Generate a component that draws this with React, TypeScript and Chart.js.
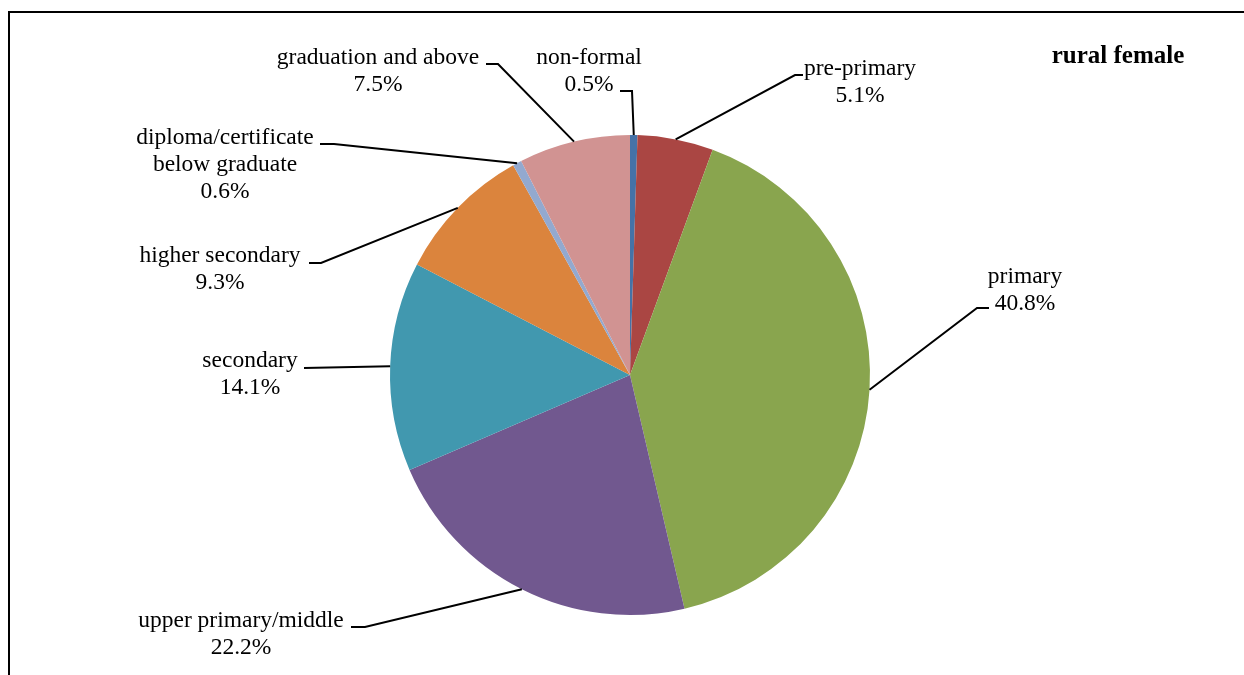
import React, { useEffect, useRef } from "react";
import { Chart, registerables } from "chart.js";

Chart.register(...registerables);

const categories = [
  "non-formal",
  "pre-primary",
  "primary",
  "upper primary/middle",
  "secondary",
  "higher secondary",
  "diploma/certificate below graduate",
  "graduation and above",
];
const labelLines = [
  ["non-formal"],
  ["pre-primary"],
  ["primary"],
  ["upper primary/middle"],
  ["secondary"],
  ["higher secondary"],
  ["diploma/certificate", "below graduate"],
  ["graduation and above"],
];
const values = [0.5, 5.1, 40.8, 22.2, 14.1, 9.3, 0.6, 7.5];
const colors = ["#4572A7", "#AA4643", "#89A54E", "#71588F", "#4198AF", "#DB843D", "#93A9CF", "#D19392"];
const title = "rural female";

// label layout: text center x, first-line middle y, leader start (at text), elbow
const labelLayout = [
  { x: 589, y: 58, start: [620, 91], elbow: [632, 91] },
  { x: 860, y: 69, start: [803, 75], elbow: [795, 75] },
  { x: 1025, y: 277, start: [989, 308], elbow: [977, 308] },
  { x: 241, y: 621, start: [351, 627], elbow: [365, 627] },
  { x: 250, y: 361, start: [304, 368], elbow: [304, 368] },
  { x: 220, y: 256, start: [309, 263], elbow: [321, 263] },
  { x: 225, y: 138, start: [320, 144], elbow: [334, 144] },
  { x: 378, y: 58, start: [486, 64], elbow: [498, 64] },
];

const FONT = '"Liberation Serif", "Times New Roman", serif';

const labelPlugin = {
  id: "leaderLabels",
  beforeDraw(chart: any) {
    const ctx = chart.ctx;
    ctx.save();
    ctx.strokeStyle = "#000";
    ctx.lineWidth = 2;
    ctx.beginPath();
    ctx.moveTo(8, 12);
    ctx.lineTo(chart.width, 12);
    ctx.moveTo(9, 12);
    ctx.lineTo(9, chart.height);
    ctx.stroke();
    ctx.restore();
  },
  afterDraw(chart: any) {
    const ctx = chart.ctx;
    const meta = chart.getDatasetMeta(0);
    ctx.save();
    meta.data.forEach((arc: any, i: number) => {
      const p = arc.getProps(["x", "y", "startAngle", "endAngle", "outerRadius"], true);
      const mid = (p.startAngle + p.endAngle) / 2;
      const ax = p.x + Math.cos(mid) * p.outerRadius;
      const ay = p.y + Math.sin(mid) * p.outerRadius;
      const L = labelLayout[i];
      ctx.strokeStyle = "#000";
      ctx.lineWidth = 2;
      ctx.beginPath();
      ctx.moveTo(L.start[0], L.start[1]);
      ctx.lineTo(L.elbow[0], L.elbow[1]);
      ctx.lineTo(ax, ay);
      ctx.stroke();
      ctx.fillStyle = "#000";
      ctx.font = `23.5px ${FONT}`;
      ctx.textAlign = "center";
      ctx.textBaseline = "middle";
      const lines = [...labelLines[i], values[i].toFixed(1) + "%"];
      lines.forEach((t, k) => ctx.fillText(t, L.x, L.y + k * 27));
    });
    ctx.font = `bold 25px ${FONT}`;
    ctx.textAlign = "center";
    ctx.textBaseline = "middle";
    ctx.fillText(title, 1118, 57);
    ctx.restore();
  },
};

export default function App() {
  const ref = useRef<HTMLCanvasElement>(null);
  useEffect(() => {
    if (!ref.current) return;
    const chart = new Chart(ref.current, {
      type: "pie",
      data: {
        labels: categories,
        datasets: [
          {
            data: values,
            backgroundColor: colors,
            borderWidth: 0,
          },
        ],
      },
      options: {
        animation: false,
        responsive: false,
        layout: { padding: { top: 135, bottom: 60, left: 390, right: 374 } },
        plugins: {
          legend: { display: false },
          tooltip: { enabled: false },
          title: { display: false },
        },
      },
      plugins: [labelPlugin],
    });
    return () => chart.destroy();
  }, []);
  return (
    <div style={{ position: "absolute", left: 0, top: 0, width: 1244, height: 675, background: "#fff" }}>
      <canvas ref={ref} width={1244} height={675} style={{ display: "block" }} />
    </div>
  );
}
